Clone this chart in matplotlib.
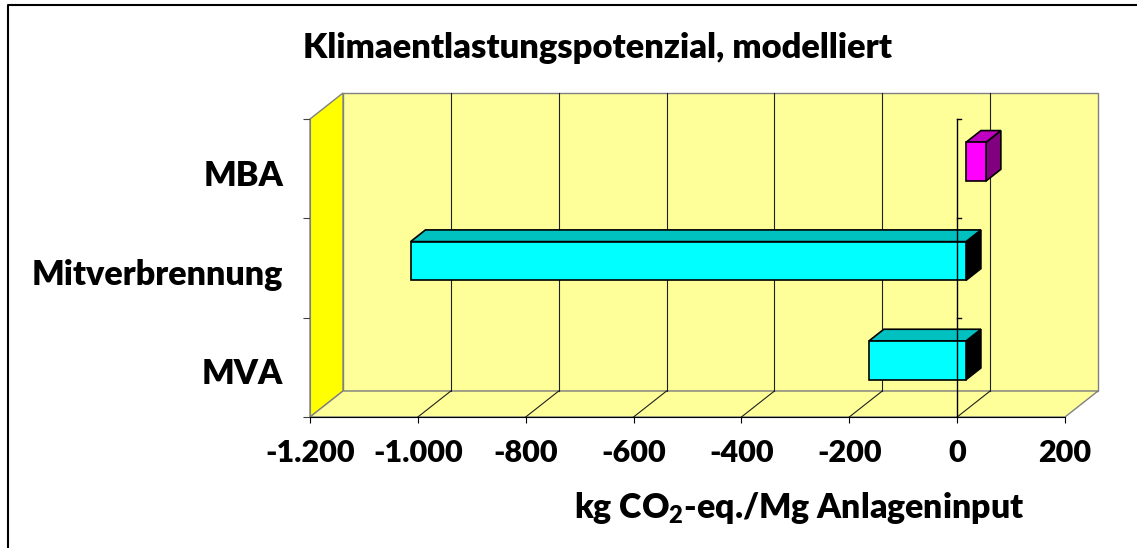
import matplotlib

matplotlib.use("Agg")
import matplotlib.pyplot as plt
from matplotlib.lines import Line2D
from matplotlib.patches import Polygon
from matplotlib.transforms import IdentityTransform, offset_copy

categories = ["MVA", "Mitverbrennung", "MBA"]
values = [-180, -1030, 37]
x_ticks = [-1200, -1000, -800, -600, -400, -200, 0, 200]
x_tick_labels = ["-1.200", "-1.000", "-800", "-600", "-400", "-200", "0", "200"]
title = "Klimaentlastungspotenzial, modelliert"
x_label = r"kg CO$_2$-eq./Mg Anlageninput"

# bar face colours (front, top, side) per category
front_colors = ["#00FFFF", "#00FFFF", "#FF00FF"]
top_colors = ["#00C0C0", "#00C0C0", "#C000C0"]
side_colors = ["#000000", "#000000", "#800080"]

W, H, DPI = 1137, 548, 100
DEPTH = (33, 26)          # dots from front plane to back wall
BAR_T0, BAR_T1 = 0.27, 0.72
BAR_H = 0.39
WEIGHT = "heavy"

plt.rcParams["font.family"] = ["Lato", "DejaVu Sans"]
plt.rcParams["font.weight"] = WEIGHT
plt.rcParams["mathtext.fontset"] = "custom"
plt.rcParams["mathtext.rm"] = "Lato:heavy"
plt.rcParams["mathtext.default"] = "rm"

fig = plt.figure(figsize=(W / DPI, H / DPI), dpi=DPI)
ax = fig.add_axes([310 / W, 131 / H, 755 / W, 298 / H])
ax.set_xlim(-1200, 200)
ax.set_ylim(-0.5, 2.5)
ax.patch.set_visible(False)
for side in ("top", "right"):
    ax.spines[side].set_visible(False)
ax.spines["bottom"].set_color("black")
ax.spines["left"].set_color("#808080")
ax.spines["bottom"].set_zorder(6)
ax.set_xticks(x_ticks, [""] * len(x_ticks))
ax.set_yticks([-0.5, 0.5, 1.5, 2.5], [""] * 4)
ax.tick_params(axis="x", direction="out", length=4, color="black")
ax.tick_params(axis="y", direction="out", length=5, color="#404040")


def proj(x, y, t):
    px, py = ax.transData.transform((x, y))
    return (px + DEPTH[0] * t, py + DEPTH[1] * t)


def face(points, fc, ec, lw=1.0, z=1):
    ax.add_patch(Polygon([proj(*p) for p in points], closed=True,
                         transform=IdentityTransform(), fc=fc, ec=ec, lw=lw,
                         zorder=z, clip_on=False))


def seg(p0, p1, color, lw=0.8, z=2):
    a, b = proj(*p0), proj(*p1)
    ax.add_line(Line2D([a[0], b[0]], [a[1], b[1]], transform=IdentityTransform(),
                       color=color, lw=lw, zorder=z, clip_on=False))


x0, x1 = ax.get_xlim()
y0, y1 = ax.get_ylim()

# walls and floor
face([(x0, y0, 1), (x1, y0, 1), (x1, y1, 1), (x0, y1, 1)], "#FFFF99", "#808080")
face([(x0, y0, 0), (x0, y0, 1), (x0, y1, 1), (x0, y1, 0)], "#FFFF00", "#808080")
face([(x0, y0, 0), (x1, y0, 0), (x1, y0, 1), (x0, y0, 1)], "#FFFF99", "#808080")

# gridlines on back wall and floor
for x in x_ticks[1:-1]:
    seg((x, y0, 1), (x, y1, 1), "#202020")
    seg((x, y0, 0), (x, y0, 1), "#202020")

# 3D bars
for i, v in enumerate(values):
    a, b = min(0, v), max(0, v)
    yb, yt = i - BAR_H / 2, i + BAR_H / 2
    face([(b, yb, BAR_T0), (b, yt, BAR_T0), (b, yt, BAR_T1), (b, yb, BAR_T1)],
         side_colors[i], "black", lw=1.2, z=3)
    face([(a, yt, BAR_T0), (b, yt, BAR_T0), (b, yt, BAR_T1), (a, yt, BAR_T1)],
         top_colors[i], "black", lw=1.2, z=3)
    face([(a, yb, BAR_T0), (b, yb, BAR_T0), (b, yt, BAR_T0), (a, yt, BAR_T0)],
         front_colors[i], "black", lw=1.2, z=3)

# category axis crossing at zero
ax.plot([0, 0], [y0, y1], color="black", lw=1.0, zorder=5, clip_on=False)
for y in [0.5, 1.5, 2.5]:
    p = ax.transData.transform((0, y))
    ax.add_line(Line2D([p[0], p[0] + 4], [p[1], p[1]], transform=IdentityTransform(),
                       color="black", lw=1.0, zorder=5, clip_on=False))

# tick labels
xlab_tr = offset_copy(ax.get_xaxis_transform(), fig=fig, x=0, y=-45, units="dots")
for x, lab in zip(x_ticks, x_tick_labels):
    ax.text(x, 0, lab, transform=xlab_tr, ha="center", va="baseline",
            fontsize=22, fontweight=WEIGHT)

ylab_tr = offset_copy(ax.get_yaxis_transform(), fig=fig, x=-27, y=-17, units="dots")
for i, cat in enumerate(categories):
    ax.text(0, i, cat, transform=ylab_tr, ha="right", va="baseline",
            fontsize=24.6, fontweight=WEIGHT)

fig.text(597.5 / W, 1 - 58 / H, title, ha="center", va="baseline",
         fontsize=24.8, fontweight=WEIGHT)
fig.text(799 / W, 1 - 518 / H, x_label, ha="center", va="baseline",
         fontsize=24.4, fontweight=WEIGHT)

# chart area border
fig.add_artist(Line2D([8 / W, 8 / W, 1], [0, 1 - 5 / H, 1 - 5 / H],
                      transform=fig.transFigure, color="black", lw=1.5))

fig.savefig("out.png", dpi=DPI)
